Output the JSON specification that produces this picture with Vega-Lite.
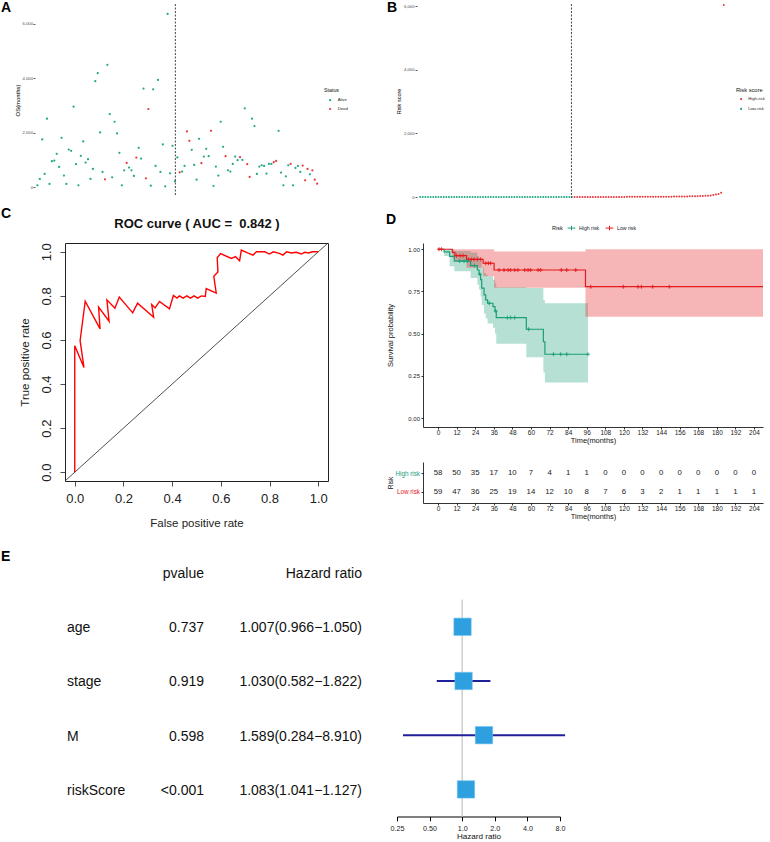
{
  "$schema": "https://vega.github.io/schema/vega-lite/v6.json",
  "background": "white",
  "padding": {"left": 0, "top": 0, "right": 2, "bottom": 0},
  "config": {
    "font": "Liberation Sans",
    "view": {"stroke": null},
    "axis": {"grid": false, "labelFont": "Liberation Sans", "titleFont": "Liberation Sans", "titleFontWeight": "normal", "labelFlush": false, "labelOverlap": false, "domainColor": "#000", "tickColor": "#000", "labelColor": "#222", "titleColor": "#111", "domainWidth": 0.8, "tickWidth": 0.8},
    "legend": {"labelFont": "Liberation Sans", "titleFont": "Liberation Sans", "titleFontWeight": "normal", "titleColor": "#111", "labelColor": "#222"},
    "title": {"font": "Liberation Sans", "fontSize": 14, "fontWeight": "bold", "anchor": "start", "frame": "group", "color": "#000"},
    "text": {"font": "Liberation Sans"}
  },
  "datasets": {
    "pts": [
      {"i":1,"os":62,"status":"Alive","score":0.25,"risk":"Low-risk"},
      {"i":2,"os":296,"status":"Alive","score":0.3,"risk":"Low-risk"},
      {"i":3,"os":1749,"status":"Alive","score":0.34,"risk":"Low-risk"},
      {"i":4,"os":480,"status":"Alive","score":0.38,"risk":"Low-risk"},
      {"i":5,"os":2513,"status":"Alive","score":0.41,"risk":"Low-risk"},
      {"i":6,"os":111,"status":"Alive","score":0.44,"risk":"Low-risk"},
      {"i":7,"os":949,"status":"Alive","score":0.47,"risk":"Low-risk"},
      {"i":8,"os":973,"status":"Alive","score":0.5,"risk":"Low-risk"},
      {"i":9,"os":1220,"status":"Alive","score":0.52,"risk":"Low-risk"},
      {"i":10,"os":739,"status":"Alive","score":0.55,"risk":"Low-risk"},
      {"i":11,"os":1811,"status":"Alive","score":0.57,"risk":"Low-risk"},
      {"i":12,"os":419,"status":"Alive","score":0.6,"risk":"Low-risk"},
      {"i":13,"os":111,"status":"Alive","score":0.62,"risk":"Low-risk"},
      {"i":14,"os":1380,"status":"Alive","score":0.64,"risk":"Low-risk"},
      {"i":15,"os":1331,"status":"Alive","score":0.66,"risk":"Low-risk"},
      {"i":16,"os":2957,"status":"Alive","score":0.68,"risk":"Low-risk"},
      {"i":17,"os":838,"status":"Alive","score":0.7,"risk":"Low-risk"},
      {"i":18,"os":62,"status":"Alive","score":0.72,"risk":"Low-risk"},
      {"i":19,"os":1146,"status":"Alive","score":0.74,"risk":"Low-risk"},
      {"i":20,"os":1676,"status":"Alive","score":0.76,"risk":"Low-risk"},
      {"i":21,"os":899,"status":"Alive","score":0.78,"risk":"Low-risk"},
      {"i":22,"os":1023,"status":"Alive","score":0.8,"risk":"Low-risk"},
      {"i":23,"os":296,"status":"Alive","score":0.82,"risk":"Low-risk"},
      {"i":24,"os":665,"status":"Alive","score":0.84,"risk":"Low-risk"},
      {"i":25,"os":3893,"status":"Alive","score":0.86,"risk":"Low-risk"},
      {"i":26,"os":4189,"status":"Alive","score":0.88,"risk":"Low-risk"},
      {"i":27,"os":2008,"status":"Alive","score":0.9,"risk":"Low-risk"},
      {"i":28,"os":554,"status":"Alive","score":0.92,"risk":"Low-risk"},
      {"i":29,"os":283,"status":"Dead","score":0.94,"risk":"Low-risk"},
      {"i":30,"os":4497,"status":"Alive","score":0.96,"risk":"Low-risk"},
      {"i":31,"os":2686,"status":"Alive","score":0.98,"risk":"Low-risk"},
      {"i":32,"os":357,"status":"Alive","score":1.0,"risk":"Low-risk"},
      {"i":33,"os":2402,"status":"Alive","score":1.02,"risk":"Low-risk"},
      {"i":34,"os":1971,"status":"Alive","score":1.04,"risk":"Low-risk"},
      {"i":35,"os":1257,"status":"Alive","score":1.06,"risk":"Low-risk"},
      {"i":36,"os":62,"status":"Alive","score":1.08,"risk":"Low-risk"},
      {"i":37,"os":616,"status":"Alive","score":1.1,"risk":"Low-risk"},
      {"i":38,"os":887,"status":"Dead","score":1.12,"risk":"Low-risk"},
      {"i":39,"os":715,"status":"Alive","score":1.14,"risk":"Low-risk"},
      {"i":40,"os":616,"status":"Alive","score":1.16,"risk":"Low-risk"},
      {"i":41,"os":407,"status":"Alive","score":1.18,"risk":"Low-risk"},
      {"i":42,"os":1084,"status":"Dead","score":1.2,"risk":"Low-risk"},
      {"i":43,"os":1441,"status":"Alive","score":1.22,"risk":"Low-risk"},
      {"i":44,"os":1047,"status":"Alive","score":1.24,"risk":"Low-risk"},
      {"i":45,"os":3622,"status":"Alive","score":1.26,"risk":"Low-risk"},
      {"i":46,"os":320,"status":"Dead","score":1.28,"risk":"Low-risk"},
      {"i":47,"os":2871,"status":"Dead","score":1.3,"risk":"Low-risk"},
      {"i":48,"os":49,"status":"Alive","score":1.32,"risk":"Low-risk"},
      {"i":49,"os":3597,"status":"Alive","score":1.35,"risk":"Low-risk"},
      {"i":50,"os":776,"status":"Alive","score":1.38,"risk":"Low-risk"},
      {"i":51,"os":3942,"status":"Alive","score":1.41,"risk":"Low-risk"},
      {"i":52,"os":554,"status":"Alive","score":1.44,"risk":"Low-risk"},
      {"i":53,"os":1565,"status":"Alive","score":1.47,"risk":"Low-risk"},
      {"i":54,"os":25,"status":"Alive","score":1.5,"risk":"Low-risk"},
      {"i":55,"os":6369,"status":"Alive","score":1.53,"risk":"Low-risk"},
      {"i":56,"os":505,"status":"Alive","score":1.56,"risk":"Low-risk"},
      {"i":57,"os":1515,"status":"Alive","score":1.6,"risk":"Low-risk"},
      {"i":58,"os":210,"status":"Alive","score":1.64,"risk":"Low-risk"},
      {"i":59,"os":1090,"status":"Alive","score":1.68,"risk":"Low-risk"},
      {"i":60,"os":542,"status":"Dead","score":1.75,"risk":"High-risk"},
      {"i":61,"os":567,"status":"Alive","score":1.8,"risk":"High-risk"},
      {"i":62,"os":776,"status":"Alive","score":1.85,"risk":"High-risk"},
      {"i":63,"os":2045,"status":"Dead","score":1.9,"risk":"High-risk"},
      {"i":64,"os":1700,"status":"Dead","score":1.95,"risk":"High-risk"},
      {"i":65,"os":1368,"status":"Alive","score":2.0,"risk":"High-risk"},
      {"i":66,"os":813,"status":"Alive","score":2.1,"risk":"High-risk"},
      {"i":67,"os":271,"status":"Alive","score":2.2,"risk":"High-risk"},
      {"i":68,"os":1774,"status":"Alive","score":2.3,"risk":"High-risk"},
      {"i":69,"os":875,"status":"Dead","score":2.4,"risk":"High-risk"},
      {"i":70,"os":1121,"status":"Alive","score":2.5,"risk":"High-risk"},
      {"i":71,"os":1404,"status":"Alive","score":2.6,"risk":"High-risk"},
      {"i":72,"os":1133,"status":"Alive","score":2.7,"risk":"High-risk"},
      {"i":73,"os":2070,"status":"Dead","score":2.8,"risk":"High-risk"},
      {"i":74,"os":37,"status":"Alive","score":2.9,"risk":"High-risk"},
      {"i":75,"os":752,"status":"Alive","score":3.0,"risk":"High-risk"},
      {"i":76,"os":419,"status":"Alive","score":3.2,"risk":"High-risk"},
      {"i":77,"os":2402,"status":"Alive","score":3.4,"risk":"High-risk"},
      {"i":78,"os":1478,"status":"Alive","score":3.6,"risk":"High-risk"},
      {"i":79,"os":1133,"status":"Dead","score":3.8,"risk":"High-risk"},
      {"i":80,"os":616,"status":"Alive","score":4.0,"risk":"High-risk"},
      {"i":81,"os":567,"status":"Alive","score":4.2,"risk":"High-risk"},
      {"i":82,"os":850,"status":"Alive","score":4.5,"risk":"High-risk"},
      {"i":83,"os":1121,"status":"Alive","score":4.8,"risk":"High-risk"},
      {"i":84,"os":986,"status":"Alive","score":5.1,"risk":"High-risk"},
      {"i":85,"os":1096,"status":"Dead","score":5.4,"risk":"High-risk"},
      {"i":86,"os":998,"status":"Alive","score":5.7,"risk":"High-risk"},
      {"i":87,"os":2895,"status":"Alive","score":6.0,"risk":"High-risk"},
      {"i":88,"os":838,"status":"Dead","score":6.4,"risk":"High-risk"},
      {"i":89,"os":370,"status":"Dead","score":6.8,"risk":"High-risk"},
      {"i":90,"os":2513,"status":"Alive","score":7.2,"risk":"High-risk"},
      {"i":91,"os":2242,"status":"Alive","score":7.6,"risk":"High-risk"},
      {"i":92,"os":480,"status":"Alive","score":8.0,"risk":"High-risk"},
      {"i":93,"os":752,"status":"Alive","score":8.5,"risk":"High-risk"},
      {"i":94,"os":801,"status":"Alive","score":9.0,"risk":"High-risk"},
      {"i":95,"os":776,"status":"Alive","score":9.5,"risk":"High-risk"},
      {"i":96,"os":493,"status":"Alive","score":10,"risk":"High-risk"},
      {"i":97,"os":850,"status":"Alive","score":11,"risk":"High-risk"},
      {"i":98,"os":850,"status":"Alive","score":12,"risk":"High-risk"},
      {"i":99,"os":912,"status":"Dead","score":13,"risk":"High-risk"},
      {"i":100,"os":961,"status":"Dead","score":14,"risk":"High-risk"},
      {"i":101,"os":2070,"status":"Alive","score":15,"risk":"High-risk"},
      {"i":102,"os":530,"status":"Alive","score":16.5,"risk":"High-risk"},
      {"i":103,"os":62,"status":"Alive","score":18,"risk":"High-risk"},
      {"i":104,"os":394,"status":"Alive","score":20,"risk":"High-risk"},
      {"i":105,"os":801,"status":"Alive","score":22,"risk":"High-risk"},
      {"i":106,"os":850,"status":"Dead","score":24,"risk":"High-risk"},
      {"i":107,"os":62,"status":"Alive","score":27,"risk":"High-risk"},
      {"i":108,"os":702,"status":"Alive","score":30,"risk":"High-risk"},
      {"i":109,"os":776,"status":"Alive","score":34,"risk":"High-risk"},
      {"i":110,"os":554,"status":"Alive","score":38,"risk":"High-risk"},
      {"i":111,"os":788,"status":"Dead","score":43,"risk":"High-risk"},
      {"i":112,"os":246,"status":"Dead","score":50,"risk":"High-risk"},
      {"i":113,"os":665,"status":"Dead","score":60,"risk":"High-risk"},
      {"i":114,"os":468,"status":"Alive","score":75,"risk":"High-risk"},
      {"i":115,"os":616,"status":"Dead","score":95,"risk":"High-risk"},
      {"i":116,"os":271,"status":"Dead","score":130,"risk":"High-risk"},
      {"i":117,"os":123,"status":"Dead","score":6030,"risk":"High-risk"}
    ],
    "roc": [
      {"k":1,"fpr":0,"tpr":0},{"k":2,"fpr":0,"tpr":0.574},{"k":3,"fpr":0.038,"tpr":0.475},{"k":4,"fpr":0.022,"tpr":0.597},
      {"k":5,"fpr":0.043,"tpr":0.776},{"k":6,"fpr":0.104,"tpr":0.65},{"k":7,"fpr":0.098,"tpr":0.749},{"k":8,"fpr":0.141,"tpr":0.685},
      {"k":9,"fpr":0.132,"tpr":0.782},{"k":10,"fpr":0.165,"tpr":0.744},{"k":11,"fpr":0.183,"tpr":0.795},{"k":12,"fpr":0.238,"tpr":0.723},
      {"k":13,"fpr":0.258,"tpr":0.767},{"k":14,"fpr":0.324,"tpr":0.703},{"k":15,"fpr":0.316,"tpr":0.761},{"k":16,"fpr":0.33,"tpr":0.745},
      {"k":17,"fpr":0.348,"tpr":0.775},{"k":18,"fpr":0.389,"tpr":0.741},{"k":19,"fpr":0.405,"tpr":0.802},{"k":20,"fpr":0.42,"tpr":0.79},
      {"k":21,"fpr":0.43,"tpr":0.8},{"k":22,"fpr":0.445,"tpr":0.79},{"k":23,"fpr":0.46,"tpr":0.8},{"k":24,"fpr":0.475,"tpr":0.79},
      {"k":25,"fpr":0.49,"tpr":0.8},{"k":26,"fpr":0.505,"tpr":0.79},{"k":27,"fpr":0.52,"tpr":0.8},{"k":28,"fpr":0.536,"tpr":0.797},
      {"k":29,"fpr":0.54,"tpr":0.833},{"k":30,"fpr":0.581,"tpr":0.813},{"k":31,"fpr":0.571,"tpr":0.889},{"k":32,"fpr":0.588,"tpr":0.909},
      {"k":33,"fpr":0.585,"tpr":0.973},{"k":34,"fpr":0.599,"tpr":0.992},{"k":35,"fpr":0.643,"tpr":0.97},{"k":36,"fpr":0.66,"tpr":0.978},
      {"k":37,"fpr":0.677,"tpr":0.959},{"k":38,"fpr":0.684,"tpr":1.008},{"k":39,"fpr":0.71,"tpr":0.995},{"k":40,"fpr":0.732,"tpr":0.985},
      {"k":41,"fpr":0.746,"tpr":1.0},{"k":42,"fpr":0.78,"tpr":1.0},{"k":43,"fpr":0.8,"tpr":0.99},{"k":44,"fpr":0.815,"tpr":1.0},
      {"k":45,"fpr":0.84,"tpr":0.993},{"k":46,"fpr":0.855,"tpr":0.985},{"k":47,"fpr":0.87,"tpr":1.0},{"k":48,"fpr":0.89,"tpr":0.995},
      {"k":49,"fpr":0.91,"tpr":0.998},{"k":50,"fpr":0.93,"tpr":0.99},{"k":51,"fpr":0.945,"tpr":0.998},{"k":52,"fpr":0.96,"tpr":0.995},
      {"k":53,"fpr":0.975,"tpr":1.0},{"k":54,"fpr":1.0,"tpr":1.0}
    ],
    "diag": [{"fpr":-0.04,"tpr":-0.04},{"fpr":1.04,"tpr":1.04}],
    "kmline": [
      {"g":"High risk","t":0,"s":1},{"g":"High risk","t":3.9,"s":0.985},{"g":"High risk","t":7.5,"s":0.958},{"g":"High risk","t":10.5,"s":0.93},
      {"g":"High risk","t":21,"s":0.903},{"g":"High risk","t":25.4,"s":0.877},{"g":"High risk","t":26.5,"s":0.852},{"g":"High risk","t":27.5,"s":0.82},
      {"g":"High risk","t":28.2,"s":0.77},{"g":"High risk","t":29.7,"s":0.73},{"g":"High risk","t":30.8,"s":0.7},{"g":"High risk","t":32,"s":0.68},
      {"g":"High risk","t":35.5,"s":0.66},{"g":"High risk","t":36.8,"s":0.634},{"g":"High risk","t":37.6,"s":0.595},{"g":"High risk","t":57,"s":0.526},
      {"g":"High risk","t":68,"s":0.452},{"g":"High risk","t":69,"s":0.378},{"g":"High risk","t":96.8,"s":0.378},
      {"g":"Low risk","t":0,"s":1},{"g":"Low risk","t":9.2,"s":0.982},{"g":"Low risk","t":10.9,"s":0.962},{"g":"Low risk","t":18.4,"s":0.94},
      {"g":"Low risk","t":29.1,"s":0.917},{"g":"Low risk","t":36.2,"s":0.877},{"g":"Low risk","t":95.2,"s":0.778},{"g":"Low risk","t":209.8,"s":0.778}
    ],
    "kmband": [
      {"g":"High risk","t":0,"lo":1,"hi":1},{"g":"High risk","t":3.9,"lo":0.96,"hi":1},{"g":"High risk","t":7.5,"lo":0.9,"hi":1},
      {"g":"High risk","t":10.5,"lo":0.87,"hi":0.99},{"g":"High risk","t":21,"lo":0.83,"hi":0.98},{"g":"High risk","t":25.4,"lo":0.79,"hi":0.96},
      {"g":"High risk","t":26.5,"lo":0.76,"hi":0.95},{"g":"High risk","t":27.5,"lo":0.72,"hi":0.93},{"g":"High risk","t":28.2,"lo":0.67,"hi":0.89},
      {"g":"High risk","t":29.7,"lo":0.62,"hi":0.86},{"g":"High risk","t":30.8,"lo":0.59,"hi":0.85},{"g":"High risk","t":32,"lo":0.56,"hi":0.84},
      {"g":"High risk","t":35.5,"lo":0.535,"hi":0.82},{"g":"High risk","t":36.8,"lo":0.5,"hi":0.8},{"g":"High risk","t":37.6,"lo":0.44,"hi":0.775},
      {"g":"High risk","t":57,"lo":0.36,"hi":0.77},{"g":"High risk","t":68,"lo":0.27,"hi":0.7},{"g":"High risk","t":69,"lo":0.21,"hi":0.68},
      {"g":"High risk","t":96.8,"lo":0.21,"hi":0.68},
      {"g":"Low risk","t":0,"lo":1,"hi":1},{"g":"Low risk","t":9.2,"lo":0.95,"hi":1},{"g":"Low risk","t":10.9,"lo":0.93,"hi":1},
      {"g":"Low risk","t":18.4,"lo":0.89,"hi":1},{"g":"Low risk","t":29.1,"lo":0.84,"hi":1},{"g":"Low risk","t":36.2,"lo":0.772,"hi":0.986},
      {"g":"Low risk","t":95.2,"lo":0.6,"hi":1},{"g":"Low risk","t":209.8,"lo":0.6,"hi":1}
    ],
    "kmcens": [
      {"g":"Low risk","t":0.6,"s":1},{"g":"Low risk","t":2.2,"s":1},{"g":"Low risk","t":12,"s":0.962},{"g":"Low risk","t":14.2,"s":0.962},
      {"g":"Low risk","t":16.1,"s":0.962},{"g":"Low risk","t":19.6,"s":0.94},{"g":"Low risk","t":21.5,"s":0.94},{"g":"Low risk","t":23.2,"s":0.94},
      {"g":"Low risk","t":25.4,"s":0.94},{"g":"Low risk","t":27.5,"s":0.94},{"g":"Low risk","t":30.8,"s":0.917},{"g":"Low risk","t":32.5,"s":0.917},
      {"g":"Low risk","t":34,"s":0.917},{"g":"Low risk","t":39.4,"s":0.877},{"g":"Low risk","t":42.6,"s":0.877},{"g":"Low risk","t":45.2,"s":0.877},
      {"g":"Low risk","t":46.9,"s":0.877},{"g":"Low risk","t":49.5,"s":0.877},{"g":"Low risk","t":51.6,"s":0.877},{"g":"Low risk","t":56,"s":0.877},
      {"g":"Low risk","t":58.1,"s":0.877},{"g":"Low risk","t":59.8,"s":0.877},{"g":"Low risk","t":64.6,"s":0.877},{"g":"Low risk","t":66.3,"s":0.877},
      {"g":"Low risk","t":79.6,"s":0.877},{"g":"Low risk","t":83.1,"s":0.877},{"g":"Low risk","t":88.9,"s":0.877},{"g":"Low risk","t":98.6,"s":0.778},
      {"g":"Low risk","t":119.6,"s":0.778},{"g":"Low risk","t":129.1,"s":0.778},{"g":"Low risk","t":131.3,"s":0.778},{"g":"Low risk","t":138.6,"s":0.778},
      {"g":"Low risk","t":149.3,"s":0.778},
      {"g":"High risk","t":14,"s":0.93},{"g":"High risk","t":16.8,"s":0.93},{"g":"High risk","t":18.9,"s":0.93},{"g":"High risk","t":23.5,"s":0.903},
      {"g":"High risk","t":27,"s":0.852},{"g":"High risk","t":33,"s":0.68},{"g":"High risk","t":37.2,"s":0.634},{"g":"High risk","t":44.8,"s":0.595},
      {"g":"High risk","t":46.9,"s":0.595},{"g":"High risk","t":49.5,"s":0.595},{"g":"High risk","t":58.5,"s":0.526},{"g":"High risk","t":74.5,"s":0.378},
      {"g":"High risk","t":79.2,"s":0.378},{"g":"High risk","t":83.1,"s":0.378},{"g":"High risk","t":96.8,"s":0.378}
    ],
    "risktab": [
      {"g":"High risk","t":0,"n":58},{"g":"High risk","t":12,"n":50},{"g":"High risk","t":24,"n":35},{"g":"High risk","t":36,"n":17},
      {"g":"High risk","t":48,"n":10},{"g":"High risk","t":60,"n":7},{"g":"High risk","t":72,"n":4},{"g":"High risk","t":84,"n":1},
      {"g":"High risk","t":96,"n":1},{"g":"High risk","t":108,"n":0},{"g":"High risk","t":120,"n":0},{"g":"High risk","t":132,"n":0},
      {"g":"High risk","t":144,"n":0},{"g":"High risk","t":156,"n":0},{"g":"High risk","t":168,"n":0},{"g":"High risk","t":180,"n":0},
      {"g":"High risk","t":192,"n":0},{"g":"High risk","t":204,"n":0},
      {"g":"Low risk","t":0,"n":59},{"g":"Low risk","t":12,"n":47},{"g":"Low risk","t":24,"n":36},{"g":"Low risk","t":36,"n":25},
      {"g":"Low risk","t":48,"n":19},{"g":"Low risk","t":60,"n":14},{"g":"Low risk","t":72,"n":12},{"g":"Low risk","t":84,"n":10},
      {"g":"Low risk","t":96,"n":8},{"g":"Low risk","t":108,"n":7},{"g":"Low risk","t":120,"n":6},{"g":"Low risk","t":132,"n":3},
      {"g":"Low risk","t":144,"n":2},{"g":"Low risk","t":156,"n":1},{"g":"Low risk","t":168,"n":1},{"g":"Low risk","t":180,"n":1},
      {"g":"Low risk","t":192,"n":1},{"g":"Low risk","t":204,"n":1}
    ],
    "cells": [
      {"key":"header","col":"pvalue","text":"pvalue"},
      {"key":"header","col":"Hazard ratio","text":"Hazard ratio"},
      {"key":"age","col":"variable","text":"age"},
      {"key":"age","col":"pvalue","text":"0.737"},
      {"key":"age","col":"Hazard ratio","text":"1.007(0.966−1.050)"},
      {"key":"stage","col":"variable","text":"stage"},
      {"key":"stage","col":"pvalue","text":"0.919"},
      {"key":"stage","col":"Hazard ratio","text":"1.030(0.582−1.822)"},
      {"key":"M","col":"variable","text":"M"},
      {"key":"M","col":"pvalue","text":"0.598"},
      {"key":"M","col":"Hazard ratio","text":"1.589(0.284−8.910)"},
      {"key":"riskScore","col":"variable","text":"riskScore"},
      {"key":"riskScore","col":"pvalue","text":"<0.001"},
      {"key":"riskScore","col":"Hazard ratio","text":"1.083(1.041−1.127)"}
    ],
    "cox": [
      {"key":"age","hr":1.007,"lower":0.966,"upper":1.05},
      {"key":"stage","hr":1.03,"lower":0.582,"upper":1.822},
      {"key":"M","hr":1.589,"lower":0.284,"upper":8.91},
      {"key":"riskScore","hr":1.083,"lower":1.041,"upper":1.127}
    ]
  },
  "spacing": 6,
  "resolve": {"scale": {"color": "independent"}, "legend": {"color": "independent"}},
  "vconcat": [
    {
      "bounds": "flush",
      "spacing": 95,
      "resolve": {"scale": {"color": "independent"}, "legend": {"color": "independent"}},
      "hconcat": [
        {
          "title": {"text": "A", "dx": -34, "offset": -11},
          "width": 287,
          "height": 192,
          "layer": [
            {
              "data": {"name": "pts"},
              "mark": {"type": "circle", "size": 5, "opacity": 1},
              "encoding": {
                "x": {"field": "i", "type": "quantitative", "scale": {"domain": [0, 119], "nice": false, "zero": false}, "axis": null},
                "y": {"field": "os", "type": "quantitative", "title": "OS(months)", "scale": {"domain": [-331, 6736], "nice": false, "zero": false},
                      "axis": {"values": [0, 2000, 4000, 6000], "domain": false, "tickSize": 2, "tickColor": "#333", "labelFontSize": 4.2, "labelColor": "#4d4d4d", "labelPadding": 0.5, "titleFontSize": 5.9, "titlePadding": 1.4, "titleColor": "#000"}},
                "color": {"field": "status", "type": "nominal", "scale": {"domain": ["Alive", "Dead"], "range": ["#22a884", "#e8383d"]},
                          "legend": {"title": "Status", "orient": "none", "legendX": 289, "legendY": 83.6, "titleFontSize": 5.3, "labelFontSize": 4.2, "symbolType": "circle", "symbolSize": 5, "symbolOffset": 4, "labelOffset": 5.5, "rowPadding": 3.8, "titlePadding": 5.2}}
              }
            },
            {
              "data": {"values": [{}]},
              "mark": {"type": "rule", "strokeDash": [2, 1.5], "color": "#444", "strokeWidth": 1},
              "encoding": {"x": {"datum": 58.2}}
            }
          ]
        },
        {
          "title": {"text": "B", "dx": -30, "offset": -11},
          "width": 312,
          "height": 194,
          "layer": [
            {
              "data": {"name": "pts"},
              "mark": {"type": "circle", "size": 4, "opacity": 1},
              "encoding": {
                "x": {"field": "i", "type": "quantitative", "scale": {"domain": [-0.2, 119], "nice": false, "zero": false}, "axis": null},
                "y": {"field": "score", "type": "quantitative", "title": "Risk score", "scale": {"domain": [-31.4, 6063], "nice": false, "zero": false},
                      "axis": {"values": [0, 2000, 4000, 6000], "domain": false, "tickSize": 2, "tickColor": "#333", "labelFontSize": 4.2, "labelColor": "#4d4d4d", "labelPadding": 1, "titleFontSize": 5.5, "titlePadding": 2.5, "titleColor": "#000"}},
                "color": {"field": "risk", "type": "nominal", "scale": {"domain": ["High-risk", "Low-risk"], "range": ["#e8383d", "#22a884"]},
                          "legend": {"title": "Risk score", "orient": "none", "legendX": 319, "legendY": 82.5, "titleFontSize": 5.7, "labelFontSize": 4.2, "symbolType": "circle", "symbolSize": 5, "symbolOffset": 3, "labelOffset": 5, "rowPadding": 4.8, "titlePadding": 4.8}}
              }
            },
            {
              "data": {"values": [{}]},
              "mark": {"type": "rule", "strokeDash": [2, 1.5], "color": "#444", "strokeWidth": 1},
              "encoding": {"x": {"datum": 58.8}}
            }
          ]
        }
      ]
    },
    {
      "bounds": "flush",
      "spacing": 29,
      "resolve": {"scale": {"color": "independent"}, "legend": {"color": "independent"}},
      "hconcat": [
        {"width": 1, "height": 1, "data": {"values": []}, "mark": "point"},
        {
          "bounds": "flush",
          "spacing": 95,
          "resolve": {"scale": {"color": "independent"}, "legend": {"color": "independent"}},
          "hconcat": [
            {
              "title": {"text": "C", "dx": -64, "offset": -3.5},
              "width": 263,
              "height": 238,
              "view": {"stroke": "#222", "strokeWidth": 1},
              "resolve": {"axis": {"x": "independent"}},
              "layer": [
                {
                  "data": {"name": "diag"},
                  "mark": {"type": "line", "color": "#222", "strokeWidth": 0.8},
                  "encoding": {
                    "x": {"field": "fpr", "type": "quantitative", "title": "ROC curve ( AUC =\u00a0 0.842 )", "scale": {"domain": [-0.04, 1.04], "nice": false, "zero": false},
                          "axis": {"orient": "top", "labels": false, "ticks": false, "domain": false, "titleFontSize": 13, "titleFontWeight": "bold", "titlePadding": 13, "titleColor": "#111"}},
                    "y": {"field": "tpr", "type": "quantitative", "title": "True positive rate", "scale": {"domain": [-0.04, 1.04], "nice": false, "zero": false},
                          "axis": {"values": [0, 0.2, 0.4, 0.6, 0.8, 1], "format": ".1f", "domain": false, "tickSize": 5, "tickColor": "#222", "labelAngle": -90, "labelAlign": "center", "labelBaseline": "bottom", "labelFontSize": 13, "labelPadding": 6.5, "labelColor": "#222", "titleFontSize": 11.5, "titlePadding": 10, "titleColor": "#222"}}
                  }
                },
                {
                  "data": {"name": "roc"},
                  "mark": {"type": "line", "color": "#ff0000", "strokeWidth": 1.4},
                  "encoding": {
                    "x": {"field": "fpr", "type": "quantitative", "title": "False positive rate",
                          "axis": {"orient": "bottom", "values": [0, 0.2, 0.4, 0.6, 0.8, 1], "format": ".1f", "domain": false, "tickSize": 5, "tickColor": "#222", "labelFontSize": 13, "labelPadding": 6, "labelColor": "#222", "titleFontSize": 11.5, "titlePadding": 12.4, "titleColor": "#222"}},
                    "y": {"field": "tpr", "type": "quantitative", "title": "True positive rate"},
                    "order": {"field": "k", "type": "quantitative"}
                  }
                }
              ]
            },
            {
              "bounds": "flush",
              "spacing": 35,
              "resolve": {"scale": {"color": "independent"}, "legend": {"color": "independent"}},
              "vconcat": [
                {
                  "title": {"text": "D", "dx": -37, "offset": -3},
                  "width": 340,
                  "height": 184,
                  "encoding": {
                    "x": {"field": "t", "type": "quantitative", "title": "Time(months)", "scale": {"domain": [-9.7, 209.8], "nice": false, "zero": false},
                          "axis": {"values": [0, 12, 24, 36, 48, 60, 72, 84, 96, 108, 120, 132, 144, 156, 168, 180, 192, 204], "labelOverlap": false, "tickSize": 2, "labelFontSize": 6.5, "labelPadding": 0, "titleFontSize": 7.4, "titlePadding": 1.1}},
                    "y": {"field": "s", "type": "quantitative", "title": "Survival probability", "scale": {"domain": [-0.053, 1.037], "nice": false, "zero": false},
                          "axis": {"values": [0, 0.25, 0.5, 0.75, 1], "format": ".2f", "labelOverlap": false, "tickSize": 2, "labelFontSize": 6, "labelPadding": 1.5, "titleFontSize": 7.5, "titlePadding": 13.5}}
                  },
                  "layer": [
                    {
                      "data": {"name": "kmband"},
                      "mark": {"type": "area", "interpolate": "step-after", "fillOpacity": 0.32},
                      "encoding": {
                        "y": {"field": "lo", "type": "quantitative", "title": "Survival probability"},
                        "y2": {"field": "hi"},
                        "fill": {"field": "g", "type": "nominal", "scale": {"domain": ["High risk", "Low risk"], "range": ["#1b9e77", "#e41a1c"]}, "legend": null}
                      }
                    },
                    {
                      "data": {"name": "kmline"},
                      "mark": {"type": "line", "interpolate": "step-after", "strokeWidth": 1.2},
                      "encoding": {
                        "color": {"field": "g", "type": "nominal", "scale": {"domain": ["High risk", "Low risk"], "range": ["#1b9e77", "#e41a1c"]},
                                  "legend": {"title": "Risk", "orient": "none", "legendX": 129, "legendY": -19.5, "direction": "horizontal", "titleOrient": "left", "titleFontSize": 5.5, "labelFontSize": 5.2, "symbolType": "M-1,0L1,0M0,-0.6L0,0.6", "symbolSize": 60, "symbolStrokeWidth": 1, "labelOffset": 3, "columnPadding": 3, "titlePadding": 4}}
                      }
                    },
                    {
                      "data": {"name": "kmcens"},
                      "mark": {"type": "point", "shape": "M-1,0L1,0M0,-1L0,1", "filled": false, "size": 16, "strokeWidth": 0.9, "opacity": 1},
                      "encoding": {
                        "stroke": {"field": "g", "type": "nominal", "scale": {"domain": ["High risk", "Low risk"], "range": ["#1b9e77", "#e41a1c"]}, "legend": null}
                      }
                    },
                    {
                      "data": {"values": [{"label": "p=1.992e-03"}]},
                      "mark": {"type": "text", "align": "left", "baseline": "middle", "fontSize": 5.6, "color": "#222"},
                      "encoding": {
                        "x": {"datum": 5.2},
                        "y": {"datum": 0.207},
                        "text": {"field": "label"}
                      }
                    }
                  ]
                },
                {
                  "width": 340,
                  "height": 41,
                  "data": {"name": "risktab"},
                  "mark": {"type": "text", "fontSize": 7.8, "color": "#222"},
                  "encoding": {
                    "x": {"field": "t", "type": "quantitative", "title": "Time(months)", "scale": {"domain": [-9.7, 209.8], "nice": false, "zero": false},
                          "axis": {"values": [0, 12, 24, 36, 48, 60, 72, 84, 96, 108, 120, 132, 144, 156, 168, 180, 192, 204], "labelOverlap": false, "tickSize": 2, "labelFontSize": 6.5, "labelPadding": 0.5, "titleFontSize": 7.4, "titlePadding": 0.8}},
                    "y": {"field": "g", "type": "ordinal", "title": "Risk", "scale": {"type": "point", "domain": ["High risk", "Low risk"], "padding": 0.58},
                          "axis": {"tickSize": 2, "labelFontSize": 6.3, "labelPadding": 1.5, "titleFontSize": 6.5, "titlePadding": 1.3,
                                   "labelColor": {"condition": {"test": "datum.value === 'High risk'", "value": "#1b9e77"}, "value": "#e41a1c"}}},
                    "text": {"field": "n", "type": "quantitative"}
                  }
                }
              ]
            }
          ]
        }
      ]
    },
    {
      "bounds": "flush",
      "spacing": 31,
      "hconcat": [
        {"width": 1, "height": 1, "data": {"values": []}, "mark": "point"},
        {
          "title": {"text": "E", "dx": -66, "offset": -27.6},
          "width": 299,
          "height": 280.5,
          "data": {"name": "cells"},
          "layer": [
            {
              "transform": [{"filter": "datum.col === 'variable'"}],
              "mark": {"type": "text", "align": "left", "baseline": "middle", "fontSize": 14, "dy": 1.5, "color": "#111"},
              "encoding": {
                "x": {"field": "col", "type": "nominal", "bandPosition": 0, "scale": {"type": "band", "domain": ["variable", "pvalue", "Hazard ratio"], "paddingInner": 0, "paddingOuter": 0}, "axis": null},
                "y": {"field": "key", "type": "nominal", "scale": {"type": "band", "domain": ["header", "age", "stage", "M", "riskScore"], "paddingInner": 0, "paddingOuter": 0.0876, "align": 1}, "axis": null},
                "text": {"field": "text"}
              }
            },
            {
              "transform": [{"filter": "datum.col === 'pvalue'"}],
              "mark": {"type": "text", "align": "right", "baseline": "middle", "fontSize": 14, "dy": 1.5, "color": "#111"},
              "encoding": {
                "x": {"field": "col", "type": "nominal", "bandPosition": 0.3746},
                "y": {"field": "key", "type": "nominal"},
                "text": {"field": "text"}
              }
            },
            {
              "transform": [{"filter": "datum.col === 'Hazard ratio'"}],
              "mark": {"type": "text", "align": "right", "baseline": "middle", "fontSize": 14, "dy": 1.5, "color": "#111"},
              "encoding": {
                "x": {"field": "col", "type": "nominal", "bandPosition": 0.96},
                "y": {"field": "key", "type": "nominal"},
                "text": {"field": "text"}
              }
            }
          ]
        },
        {
          "width": 163,
          "height": 280.5,
          "data": {"name": "cox"},
          "layer": [
            {
              "mark": {"type": "rect", "fill": null, "stroke": "#cccccc", "strokeWidth": 1},
              "encoding": {
                "x": {"datum": 1},
                "x2": {"datum": 1},
                "y": {"field": "key", "type": "nominal", "scale": {"type": "band", "domain": ["header", "age", "stage", "M", "riskScore"], "paddingInner": 0, "paddingOuter": 0.0876, "align": 1}, "axis": null}
              }
            },
            {
              "mark": {"type": "rule", "color": "#1f1f9a", "strokeWidth": 2},
              "encoding": {
                "x": {"field": "lower", "type": "quantitative", "title": "Hazard ratio", "scale": {"type": "log", "base": 2, "domain": [0.25, 8], "nice": false},
                      "axis": {"values": [0.25, 0.5, 1, 2, 4, 8], "labelExpr": "datum.value == 0.25 ? '0.25' : datum.value == 0.5 ? '0.50' : format(datum.value, '.1f')", "tickSize": 4.3, "labelFontSize": 7.2, "labelPadding": 3.5, "titleFontSize": 8.1, "titlePadding": 1, "domainWidth": 1, "tickWidth": 1}},
                "x2": {"field": "upper"},
                "y": {"field": "key", "type": "nominal"}
              }
            },
            {
              "mark": {"type": "square", "size": 300, "color": "#2e9fdf", "opacity": 1, "stroke": "#6cc0ee", "strokeWidth": 0.6},
              "encoding": {
                "x": {"field": "hr", "type": "quantitative", "title": "Hazard ratio"},
                "y": {"field": "key", "type": "nominal"}
              }
            }
          ]
        }
      ]
    }
  ]
}
